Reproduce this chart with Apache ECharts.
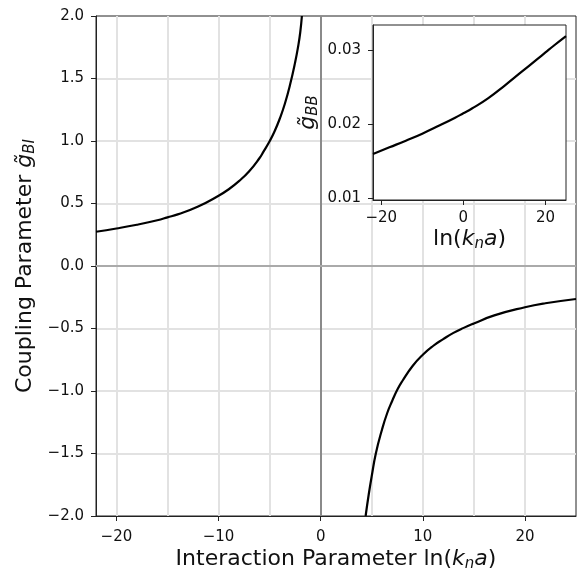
<!DOCTYPE html>
<html>
<head>
<meta charset="utf-8">
<script src="https://cdn.jsdelivr.net/npm/echarts@6/dist/echarts.min.js"></script>
<style>
  html, body { margin: 0; padding: 0; background: #fff; }
  #chart { width: 577px; height: 569px; }
</style>
</head>
<body>
<div id="chart"></div>
<script>
// Coupling parameter g_BI against ln(k_n a): branch left of the pole
const leftBranchX = [-22, -20, -18, -16, -15, -14, -12, -10, -9, -8, -7, -6, -5.6, -5, -4.5, -4, -3.5, -3, -2.5, -2.2, -2, -1.84];
const leftBranchY = [0.274, 0.300, 0.330, 0.366, 0.389, 0.413, 0.476, 0.562, 0.614, 0.679, 0.758, 0.862, 0.915, 0.998, 1.08, 1.18, 1.30, 1.45, 1.63, 1.76, 1.87, 2.0];

// Branch right of the pole
const rightBranchX = [4.4, 4.7, 5, 5.4, 6, 6.5, 7, 7.5, 8, 9, 10, 11, 12, 13, 14, 15, 17, 20, 22, 25];
const rightBranchY = [-2.0, -1.83, -1.68, -1.5, -1.31, -1.18, -1.08, -0.99, -0.92, -0.80, -0.71, -0.64, -0.585, -0.535, -0.495, -0.46, -0.395, -0.330, -0.298, -0.264];

// Inset: g_BB against ln(k_n a)
const insetX = [-22, -18, -14, -10, -6, -2, 0, 2, 6, 10, 14, 18, 20, 22, 25];
const insetY = [0.0160, 0.0169, 0.0178, 0.01875, 0.0198, 0.0209, 0.0215, 0.0221, 0.0235, 0.0252, 0.0270, 0.0288, 0.0297, 0.0306, 0.0319];

// Tick labels and grid positions
const mainXTicks = [-20, -10, 0, 10, 20];
const mainXGrid = [-20, -15, -10, -5, 5, 10, 15, 20];
const insetXTicks = [-20, 0, 20];
const insetYTicks = [0.01, 0.02, 0.03];

const FONT = 'DejaVu Sans';
const INK = '#111';
const SPINE = '#222';
const GRID = '#e2e2e2';

const pairs = (xs, ys) => xs.map((x, i) => [x, ys[i]]);
const fmtSigned = (v, d) => (v < 0 ? '\u2212' : '') + Math.abs(v).toFixed(d);

const titleRich = {
  t: { fontFamily: FONT, fontSize: 22, color: INK },
  i: { fontFamily: FONT, fontSize: 22, fontStyle: 'italic', color: INK },
  s: { fontFamily: FONT, fontSize: 15, fontStyle: 'italic', color: INK, padding: [10, 0, 0, 0] }
};

const curveStyle = { color: '#000', width: 2.2 };

const chart = echarts.init(document.getElementById('chart'), null, { renderer: 'canvas' });

chart.setOption({
  animation: false,
  backgroundColor: '#fff',
  grid: [
    { left: 96, top: 16, right: 1, bottom: 53, outerBoundsMode: 'none', containLabel: false,
      show: true, borderColor: SPINE, borderWidth: 1, backgroundColor: 'transparent' },
    { left: 373, top: 25, right: 11, bottom: 369, outerBoundsMode: 'none', containLabel: false,
      show: true, borderColor: SPINE, borderWidth: 1, backgroundColor: '#fff', z: 10 }
  ],
  xAxis: [
    {
      type: 'value', gridIndex: 0, min: -22, max: 25,
      axisLine: { show: true, onZero: false, lineStyle: { color: SPINE, width: 1 } },
      axisTick: { show: true, customValues: mainXTicks, length: 5, lineStyle: { color: SPINE, width: 1 } },
      axisLabel: { customValues: mainXTicks, fontFamily: FONT, fontSize: 15, color: INK, margin: 14,
        formatter: v => fmtSigned(v, 0) },
      splitLine: { show: false },
      name: '{t|Interaction Parameter ln(}{i|k}{s|n}{i|a}{t|)}',
      nameLocation: 'middle', nameGap: 31, nameMoveOverlap: false,
      nameTextStyle: { rich: titleRich }
    },
    {
      type: 'value', gridIndex: 1, min: -22, max: 25, z: 12,
      axisLine: { show: true, onZero: false, lineStyle: { color: SPINE, width: 1 } },
      axisTick: { show: true, customValues: insetXTicks, length: 5, lineStyle: { color: SPINE, width: 1 } },
      axisLabel: { customValues: insetXTicks, fontFamily: FONT, fontSize: 15, color: INK, margin: 11,
        formatter: v => fmtSigned(v, 0) },
      splitLine: { show: false },
      name: '{t|ln(}{i|k}{s|n}{i|a}{t|)}',
      nameLocation: 'middle', nameGap: 27, nameMoveOverlap: false,
      nameTextStyle: { rich: titleRich }
    }
  ],
  yAxis: [
    {
      type: 'value', gridIndex: 0, min: -2, max: 2, interval: 0.5,
      axisLine: { show: true, onZero: false, lineStyle: { color: SPINE, width: 1 } },
      axisTick: { show: true, length: 5, lineStyle: { color: SPINE, width: 1 } },
      axisLabel: { fontFamily: FONT, fontSize: 15, color: INK, margin: 12,
        formatter: v => fmtSigned(v, 1) },
      splitLine: { show: true, showMinLine: false, showMaxLine: false, lineStyle: { color: GRID, width: 2 } },
      name: '{t|Coupling Parameter }{i|g\u0303}{s|BI}',
      nameLocation: 'middle', nameGap: 58, nameRotate: 90, nameMoveOverlap: false,
      nameTextStyle: { rich: titleRich }
    },
    {
      type: 'value', gridIndex: 1, min: 0.0098, max: 0.0334, z: 12,
      axisLine: { show: true, onZero: false, lineStyle: { color: SPINE, width: 1 } },
      axisTick: { show: true, customValues: insetYTicks, length: 5, lineStyle: { color: SPINE, width: 1 } },
      axisLabel: { customValues: insetYTicks, fontFamily: FONT, fontSize: 15, color: INK, margin: 12,
        formatter: v => v.toFixed(2) },
      splitLine: { show: false },
      name: '{i|g\u0303}{s|BB}',
      nameLocation: 'middle', nameGap: 52, nameRotate: 90, nameMoveOverlap: false,
      nameTextStyle: { rich: titleRich }
    }
  ],
  series: [
    {
      type: 'line', xAxisIndex: 0, yAxisIndex: 0, z: 3,
      data: pairs(leftBranchX, leftBranchY),
      showSymbol: false, smooth: 0.5,
      lineStyle: curveStyle,
      markLine: {
        silent: true, symbol: 'none', z: 1, animation: false,
        label: { show: false },
        lineStyle: { color: GRID, width: 2, type: 'solid' },
        data: mainXGrid.map(v => ({ xAxis: v })).concat([
          { xAxis: 0, lineStyle: { color: '#8a8a8a', width: 2, type: 'solid' } },
          { yAxis: 0, lineStyle: { color: '#aaaaaa', width: 2, type: 'solid' } }
        ])
      }
    },
    {
      type: 'line', xAxisIndex: 0, yAxisIndex: 0, z: 3,
      data: pairs(rightBranchX, rightBranchY),
      showSymbol: false, smooth: 0.5,
      lineStyle: curveStyle
    },
    {
      type: 'line', xAxisIndex: 1, yAxisIndex: 1, z: 12,
      data: pairs(insetX, insetY),
      showSymbol: false, smooth: 0.5,
      lineStyle: curveStyle
    }
  ]
});
</script>
</body>
</html>
